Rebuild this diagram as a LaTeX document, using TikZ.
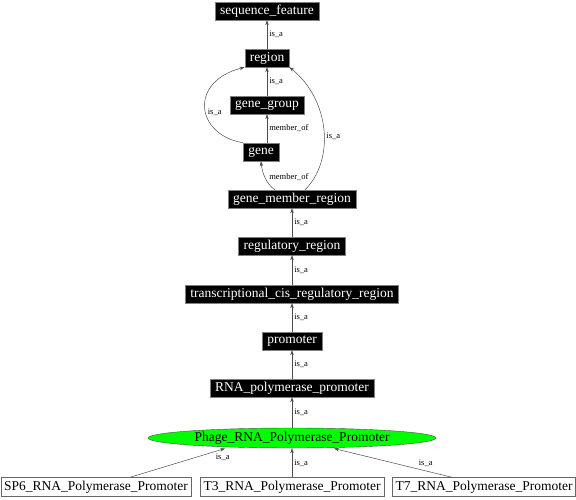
\documentclass[tikz,border=0pt]{standalone}
\usepackage{fontspec}
\setmainfont{Liberation Serif}
\usetikzlibrary{arrows.meta,shapes.geometric}

\begin{document}
\begin{tikzpicture}[x=1pt, y=-1pt, > = {Stealth[length=5pt,width=3.5pt]}]
            % Estilos
            \tikzstyle{term}=[rectangle, draw=gray, fill=black, text=white, font=\fontsize{13.5}{14}\selectfont, inner xsep=5pt, inner ysep=0pt, minimum height=18pt]
            \tikzstyle{leaf}=[rectangle, draw=gray!80!black, fill=white, font=\fontsize{13.5}{14}\selectfont, inner xsep=3pt, inner ysep=0pt, minimum height=19pt]
            \tikzstyle{edge}=[->, draw=black!70, line width=0.5pt]
            \tikzstyle{lbl}=[font=\fontsize{8.5}{10}\selectfont, inner sep=2pt]
            \useasboundingbox (0,0) rectangle (576,500);

            % Nós
            \node[term] (seqfeat) at (267,11) {sequence\_feature};
            \node[term] (region) at (267,58) {region};
            \node[term] (genegroup) at (267,105) {gene\_group};
            \node[term] (gene) at (261,152) {gene};
            \node[term] (gmr) at (292,199) {gene\_member\_region};
            \node[term] (regreg) at (292,246) {regulatory\_region};
            \node[term] (tcrr) at (292,294) {transcriptional\_cis\_regulatory\_region};
            \node[term] (promoter) at (292,341) {promoter};
            \node[term] (rnapp) at (292,388) {RNA\_polymerase\_promoter};
            \node[ellipse, draw=black!70, fill=green, font=\fontsize{13.5}{14}\selectfont, minimum width=288pt, minimum height=20pt, inner sep=0pt] (phage) at (292,438) {Phage\_RNA\_Polymerase\_Promoter};
            \node[leaf, minimum width=189pt] (sp6) at (96,487) {SP6\_RNA\_Polymerase\_Promoter};
            \node[leaf, minimum width=184pt] (t3) at (292,487) {T3\_RNA\_Polymerase\_Promoter};
            \node[leaf, minimum width=182pt] (t7) at (484,487) {T7\_RNA\_Polymerase\_Promoter};

            % Arestas
            \draw[edge] (region) -- node[lbl, right] {is\_a} (seqfeat);
            \draw[edge] (genegroup) -- node[lbl, right] {is\_a} (region);
            \draw[edge] (gene.north -| genegroup.south) -- node[lbl, right] {member\_of} (genegroup.south);
            \draw[edge] (gene.north west) .. controls (196,135) and (188,82) .. node[lbl, pos=0.45, right] {is\_a} (region.south west);
            \draw[edge] (gmr.north) ++(-17,0) .. controls (266,184) and (262,172) .. node[lbl, pos=0.5, right, xshift=2pt] {member\_of} (gene.south);
            \draw[edge] (gmr.north) ++(13,0) .. controls (335,160) and (330,100) .. node[lbl, pos=0.45, right] {is\_a} (region.south east);
            \draw[edge] (regreg) -- node[lbl, right] {is\_a} (gmr);
            \draw[edge] (tcrr) -- node[lbl, right] {is\_a} (regreg);
            \draw[edge] (promoter) -- node[lbl, right] {is\_a} (tcrr);
            \draw[edge] (rnapp) -- node[lbl, right] {is\_a} (promoter);
            \draw[edge] (phage) -- node[lbl, right] {is\_a} (rnapp);
            \draw[edge] (sp6.north -| 130,0) -- node[lbl, below right, pos=0.88] {is\_a} (225,448.5);
            \draw[edge] (t3) -- node[lbl, right] {is\_a} (phage);
            \draw[edge] (t7.north -| 452,0) -- node[lbl, above right, pos=0.3] {is\_a} (334,448.5);
        \end{tikzpicture}
\end{document}
